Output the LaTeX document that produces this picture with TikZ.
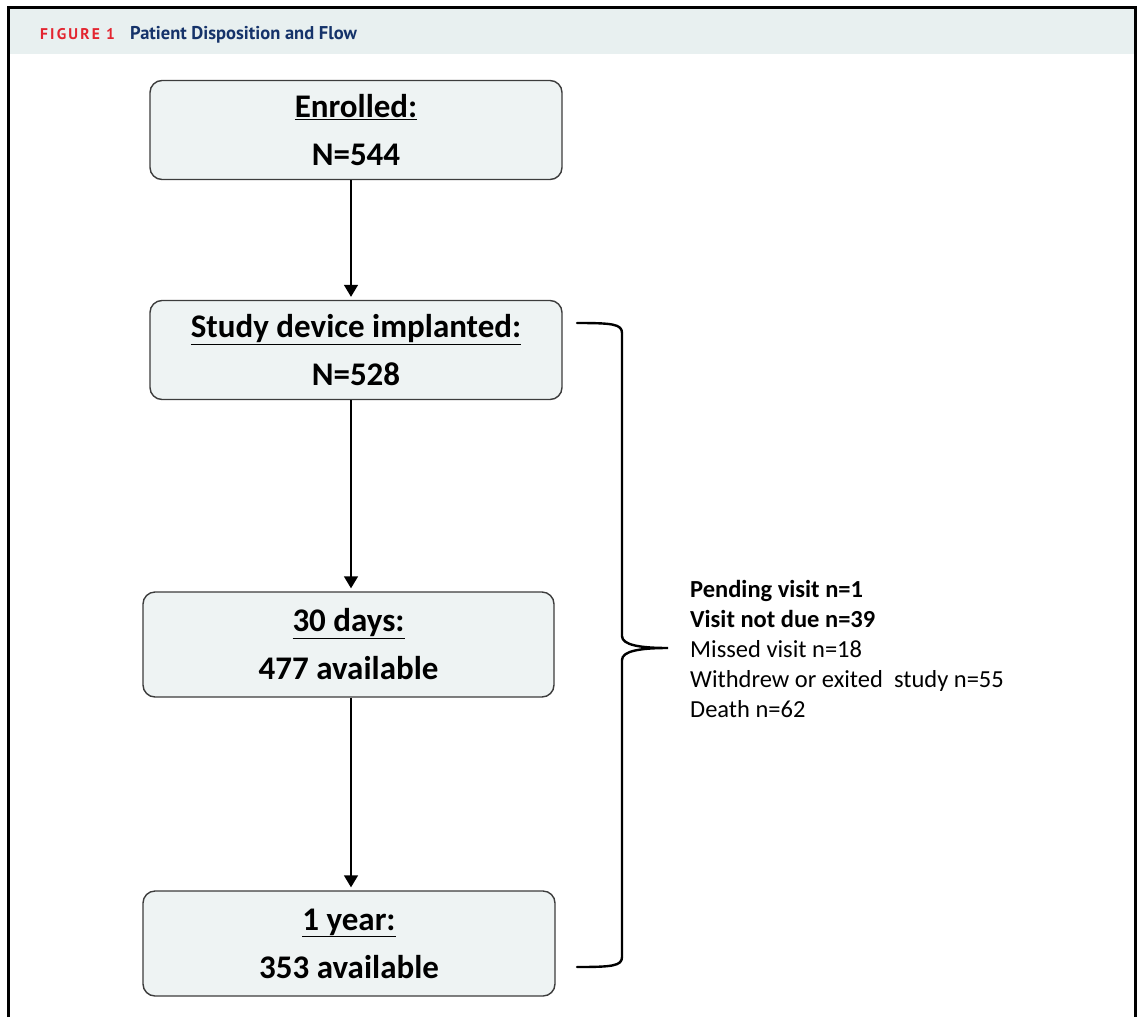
\documentclass[tikz,border=0pt]{standalone}
\usepackage{fontspec}
\setmainfont{Carlito}
\newfontfamily\headfont{PT Sans}
\usepackage{xcolor}
\usetikzlibrary{positioning,arrows.meta}
\definecolor{boxfill}{HTML}{EEF3F3}
\definecolor{boxline}{HTML}{3C3C3C}
\definecolor{headfill}{HTML}{E8F0F0}
\definecolor{figred}{HTML}{E32530}
\definecolor{figblue}{HTML}{15336A}

\begin{document}
\begin{tikzpicture}[x=1pt, y=-1pt,
      stage/.style={draw=boxline, line width=1.4pt, rounded corners=12pt, fill=boxfill,
        align=center, minimum width=412pt, inner sep=0pt,
        font=\fontsize{33}{48}\selectfont\bfseries},
      flow/.style={-{Triangle[length=12pt, width=14pt]}, line width=1.6pt, shorten >=3pt},
      brace/.style={line width=2.4pt, line cap=round},
      note/.style={align=left, anchor=west, inner sep=0pt,
        font=\fontsize{24.5}{30}\selectfont}]
    \useasboundingbox (0,0) rectangle (1142,1017);
    % frame and heading band
    \fill[headfill] (10,9) rectangle (1134,54);
    \draw[line width=2.6pt] (8.5,1017) -- (8.5,7.5) -- (1135.5,7.5) -- (1135.5,1017);
    \node[anchor=base west, inner sep=0pt, text=figred, font=\headfont\bfseries\fontsize{15.5}{15.5}\selectfont\addfontfeatures{LetterSpace=14}] (fig) at (40,39) {FIGURE 1};
    \node[anchor=base west, inner sep=0pt, text=figblue, font=\headfont\bfseries\fontsize{18.5}{18.5}\selectfont] (ttl) at (130,39) {Patient Disposition and Flow};
    % boxes
    \node[stage, minimum height=99pt] (enr) at (356,130) {\underline{Enrolled:}\\N=544};
    \node[stage, minimum height=99pt] (imp) at (356,350) {\underline{Study device implanted:}\\N=528};
    \node[stage, minimum width=411pt, minimum height=105pt] (d30) at (348.5,644.5) {\underline{30 days:}\\477 available};
    \node[stage, minimum height=105pt] (yr1) at (349,943.5) {\underline{1 year:}\\353 available};
    \coordinate (ax) at (351,0);
    \draw[flow] (enr.south -| ax) -- (imp.north -| ax);
    \draw[flow] (imp.south -| ax) -- (d30.north -| ax);
    \draw[flow] (d30.south -| ax) -- (yr1.north -| ax);
    % brace
    \coordinate (btop) at (577,323);
    \coordinate (btip) at (668,648);
    \coordinate (bbot) at (577,967);
    \draw[brace] (btop) .. controls (612,323) and (622,324) .. (622,333)
      -- (622,636) .. controls (622,645) and (640,648) .. (btip)
      .. controls (640,648) and (622,651) .. (622,660)
      -- (622,957) .. controls (622,966) and (612,967) .. (bbot);
    \node[note] (rest) at (690,649) {\textbf{Pending visit n=1}\\
      \textbf{Visit not due n=39}\\
      Missed visit n=18\\
      Withdrew or exited\ \ study n=55\\
      Death n=62};
  \end{tikzpicture}
\end{document}
